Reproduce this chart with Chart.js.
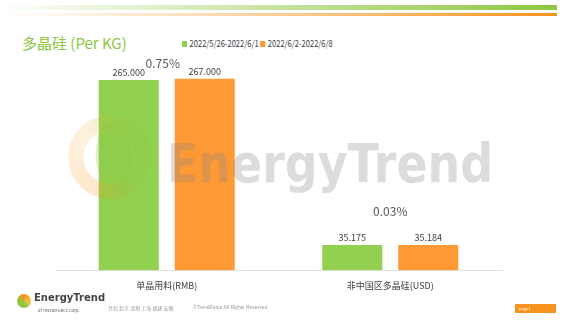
<!DOCTYPE html>
<html>
<head>
<meta charset="utf-8">
<script src="https://cdn.jsdelivr.net/npm/chart.js@4.4.0/dist/chart.umd.min.js"></script>
<style>
  html, body { margin: 0; padding: 0; background: #fff; }
  body { width: 567px; height: 322px; position: relative; overflow: hidden; font-family: "Noto Sans CJK SC", "Noto Sans", sans-serif; }
  .bar-g { position: absolute; left: 0; top: 5px; width: 557px; height: 5px; background: linear-gradient(to right, rgba(141,198,63,0), rgba(141,198,63,0.35) 35%, #8DC63F); }
  .bar-o { position: absolute; left: 0; top: 13px; width: 557px; height: 3px; background: linear-gradient(to right, rgba(247,147,30,0), rgba(247,147,30,0.3) 35%, #F7931E); }
  .title { position: absolute; left: 22px; top: 32px; font-size: 15px; color: #8DC63F; white-space: nowrap; }
  .legend { position: absolute; left: 182px; top: 37px; font-size: 9px; color: #404040; white-space: nowrap; transform: scaleX(0.84); transform-origin: left center; }
  .legend i { display: inline-block; width: 6px; height: 6px; margin-right: 3px; vertical-align: 0; }
  #wrap { position: absolute; left: 0; top: 0; width: 567px; height: 322px; }
  .wm { position: absolute; left: 167px; top: 132px; font-family: "DejaVu Sans", sans-serif; font-weight: bold; font-size: 54px; line-height: 63px; color: rgba(140,140,140,0.3); pointer-events: none; white-space: nowrap; transform: scaleX(0.85); transform-origin: left top; }
  .wm-logo { position: absolute; left: 68px; top: 115px; width: 84px; height: 84px; border-radius: 50%; pointer-events: none;
    background: conic-gradient(from 200deg, rgba(247,147,30,0.22), rgba(247,180,60,0.18) 30%, rgba(141,198,63,0.25) 55%, rgba(141,198,63,0.18) 80%, rgba(247,147,30,0.22));
    -webkit-mask: radial-gradient(circle, transparent 26px, #000 27px); mask: radial-gradient(circle, transparent 26px, #000 27px); }
  .leaf { position: absolute; left: 92px; top: 128px; width: 44px; height: 60px; border-radius: 0 80% 0 80%; background: rgba(141,198,63,0.28); transform: rotate(20deg); pointer-events: none; }
  .foot-logo { position: absolute; left: 17px; top: 292px; }
  .foot-logo .c { position: absolute; left: 0; top: 2px; width: 14px; height: 14px; border-radius: 50%; background: conic-gradient(#F7931E, #f5c342, #8DC63F, #8DC63F, #F7931E); }
  .foot-logo .t { position: absolute; left: 17px; top: 0; font-family: "DejaVu Sans", sans-serif; font-weight: bold; font-size: 10px; color: #444; white-space: nowrap; }
  .foot-logo .s { position: absolute; left: 21px; top: 15px; font-size: 4px; color: #555; white-space: nowrap; }
  .cities { position: absolute; left: 108px; top: 304px; font-size: 5px; color: #999; white-space: nowrap; }
  .copy { position: absolute; left: 193px; top: 304px; font-size: 5px; color: #999; white-space: nowrap; font-family: "Liberation Sans", sans-serif; }
  .page { position: absolute; left: 515px; top: 304px; width: 41px; height: 9px; background: #F7931E; color: #fff; font-size: 5px; line-height: 9px; padding-left: 4px; box-sizing: border-box; font-family: "Liberation Serif", serif; }
</style>
</head>
<body>
<div class="bar-g"></div>
<div class="bar-o"></div>
<div class="title">多晶硅 (Per KG)</div>
<div class="legend"><i style="background:#92D050"></i>2022/5/26-2022/6/1 <i style="background:#FF9933"></i>2022/6/2-2022/6/8</div>
<div id="wrap"><canvas id="chart"></canvas></div>
<div class="wm-logo"></div>
<div class="leaf"></div>
<div class="wm">EnergyTrend</div>
<div class="foot-logo"><div class="c"></div><div class="t">EnergyTrend</div><div class="s">of TRENDFORCE Corp.</div></div>
<div class="cities">台北 北京 深圳 上海 福建 安徽</div>
<div class="copy">©TrendForce All Rights Reserved</div>
<div class="page">page1</div>
<script>
const categories = ['单晶用料(RMB)', '非中国区多晶硅(USD)'];
const seriesLabels = ['2022/5/26-2022/6/1', '2022/6/2-2022/6/8'];
const weekOne = [265.000, 35.175];
const weekTwo = [267.000, 35.184];
const changes = ['0.75%', '0.03%'];

// value labels above each bar
const valueLabels = {
  id: 'valueLabels',
  afterDatasetsDraw(chart) {
    const ctx = chart.ctx;
    ctx.save();
    ctx.font = '9px "Noto Sans CJK SC", sans-serif';
    ctx.fillStyle = '#404040';
    ctx.textAlign = 'center';
    ctx.textBaseline = 'bottom';
    chart.data.datasets.forEach((ds, i) => {
      chart.getDatasetMeta(i).data.forEach((bar, j) => {
        ctx.fillText(ds.data[j].toFixed(3), bar.x, bar.y - 3);
      });
    });
    // percentage change per category
    ctx.font = '12px "Noto Sans CJK SC", sans-serif';
    ctx.fillStyle = '#595959';
    ctx.textBaseline = 'middle';
    const x = chart.scales.x, y = chart.scales.y;
    const offsets = [-15, -34];
    changes.forEach((txt, j) => {
      const top = y.getPixelForValue(Math.max(weekOne[j], weekTwo[j]));
      ctx.fillText(txt, x.getPixelForValue(j) - (j === 0 ? 4 : 0), top + offsets[j]);
    });
    ctx.restore();
  }
};

new Chart(document.getElementById('chart'), {
  type: 'bar',
  data: {
    labels: categories,
    datasets: [
      { label: seriesLabels[0], data: weekOne, backgroundColor: '#92D050', categoryPercentage: 0.68, barPercentage: 0.79 },
      { label: seriesLabels[1], data: weekTwo, backgroundColor: '#FF9933', categoryPercentage: 0.68, barPercentage: 0.79 }
    ]
  },
  options: {
    responsive: true,
    maintainAspectRatio: false,
    animation: false,
    layout: { padding: { left: 55, right: 65, top: 55, bottom: 29 } },
    plugins: {
      legend: { display: false },
      tooltip: { enabled: false }
    },
    scales: {
      x: {
        grid: { display: false },
        border: { color: '#e0e0e0' },
        ticks: { color: '#404040', font: { size: 9, family: '"Noto Sans CJK SC", sans-serif' }, padding: 2 }
      },
      y: {
        display: false,
        min: 0,
        max: 300
      }
    }
  },
  plugins: [valueLabels]
});
</script>
</body>
</html>
